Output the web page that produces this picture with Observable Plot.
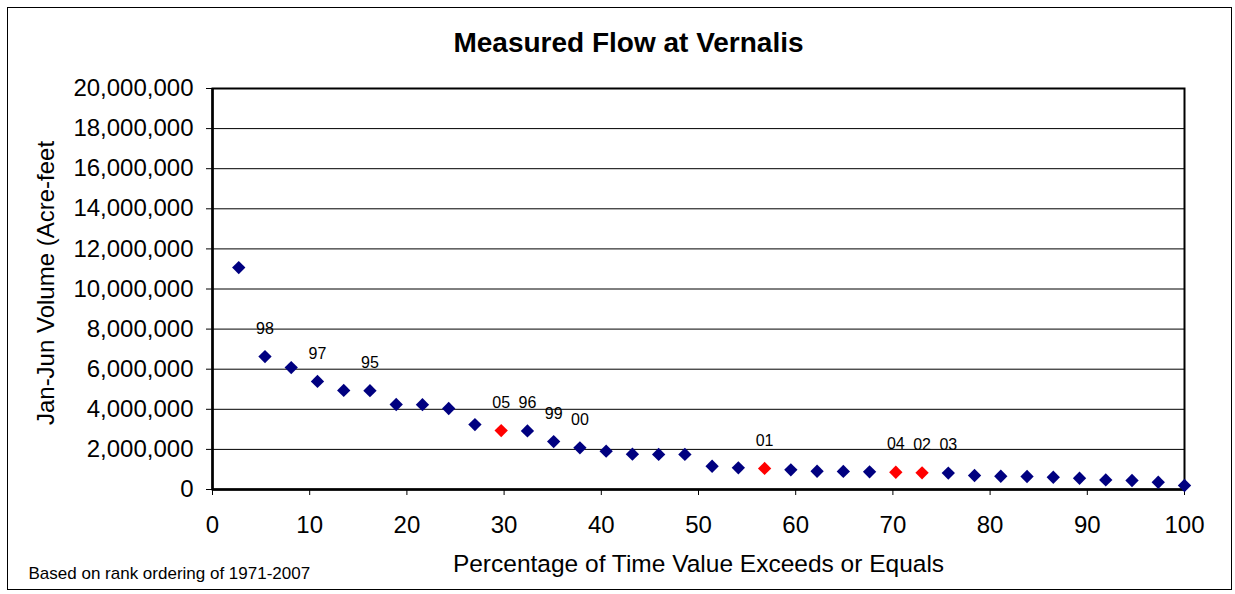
<!DOCTYPE html>
<html>
<head>
<meta charset="utf-8">
<script src="https://cdn.jsdelivr.net/npm/d3@7"></script>
<script src="https://cdn.jsdelivr.net/npm/@observablehq/plot@0.6"></script>
<style>
  html, body { margin: 0; padding: 0; background: #fff; }
  #wrap { position: relative; width: 1235px; height: 594px; overflow: hidden; font-family: "Liberation Sans", Arial, sans-serif; }
  #border { position: absolute; left: 7px; top: 7px; width: 1225px; height: 583px; border: 1px solid #000; box-sizing: border-box; }
  #chart { position: absolute; left: 0; top: 0; }
</style>
</head>
<body>
<div id="wrap"><div id="border"></div><div id="chart"></div></div>
<script>
// Percentage of time value exceeds or equals (rank position)
const exceedPct = [2.7, 5.4, 8.1, 10.8, 13.5, 16.2, 18.9, 21.6, 24.3, 27.0, 29.7, 32.4, 35.1, 37.8, 40.5, 43.2, 45.9, 48.6, 51.4, 54.1, 56.8, 59.5, 62.2, 64.9, 67.6, 70.3, 73.0, 75.7, 78.4, 81.1, 83.8, 86.5, 89.2, 91.9, 94.6, 97.3, 100];
// Jan-Jun volume (acre-feet)
const volume = [11070000, 6630000, 6080000, 5390000, 4940000, 4930000, 4240000, 4230000, 4040000, 3240000, 2940000, 2920000, 2390000, 2080000, 1910000, 1760000, 1750000, 1750000, 1160000, 1080000, 1050000, 980000, 910000, 900000, 880000, 860000, 830000, 820000, 700000, 660000, 650000, 610000, 560000, 480000, 450000, 360000, 200000];
// Year labels shown on the chart ("" = no label)
const yearLabel = ["", "98", "", "97", "", "95", "", "", "", "", "05", "96", "99", "00", "", "", "", "", "", "", "01", "", "", "", "", "04", "02", "03", "", "", "", "", "", "", "", "", ""];
// Highlighted (recent drought) years
const highlighted = ["05", "01", "04", "02"];

const xTicks = [0, 10, 20, 30, 40, 50, 60, 70, 80, 90, 100];
const yTicks = [0, 2000000, 4000000, 6000000, 8000000, 10000000, 12000000, 14000000, 16000000, 18000000, 20000000];

const titleText = "Measured Flow at Vernalis";
const xLabel = "Percentage of Time Value Exceeds or Equals";
const yLabel = "Jan-Jun Volume (Acre-feet";
const caption = "Based on rank ordering of 1971-2007";

const data = exceedPct.map((p, i) => ({pct: p, vol: volume[i], label: yearLabel[i], hi: highlighted.includes(yearLabel[i])}));

const font = '"Liberation Sans", Arial, sans-serif';

const plot = Plot.plot({
  width: 1235,
  height: 594,
  marginLeft: 212,
  marginRight: 51,
  marginTop: 88,
  marginBottom: 105,
  style: {fontFamily: font, fontSize: "24px", color: "#000", background: "transparent", overflow: "visible"},
  x: {domain: [0, 100], ticks: xTicks},
  y: {domain: [0, 20000000], ticks: yTicks},
  marks: [
    Plot.gridY(yTicks, {stroke: "#000", strokeOpacity: 1, strokeWidth: 1}),
    Plot.frame({stroke: "#000", strokeWidth: 2}),
    Plot.axisY({ticks: yTicks, tickFormat: d3.format(","), tickSize: 6, tickPadding: 13, label: null, fontSize: 24, stroke: "#000"}),
    Plot.axisX({ticks: xTicks, tickSize: 6, tickPadding: 20, label: null, fontSize: 24, stroke: "#000"}),
    Plot.ruleY([0], {stroke: "#000", strokeWidth: 2.5}),
    Plot.ruleX([0], {stroke: "#000", strokeWidth: 2.5}),
    Plot.dot(data.filter(d => !d.hi), {x: "pct", y: "vol", symbol: "diamond2", r: 6, fill: "#000080", stroke: "none"}),
    Plot.dot(data.filter(d => d.hi), {x: "pct", y: "vol", symbol: "diamond2", r: 6, fill: "#FF0000", stroke: "none"}),
    Plot.text(data.filter(d => d.label), {x: "pct", y: "vol", text: "label", dy: -28, fontSize: 16, fill: "#000"}),
    Plot.text([titleText], {frameAnchor: "top", textAnchor: "middle", lineAnchor: "middle", dx: -70, dy: -45, fontSize: 28, fontWeight: "bold", fill: "#000"}),
    Plot.text([xLabel], {frameAnchor: "bottom", textAnchor: "middle", lineAnchor: "middle", dy: 75, fontSize: 24.5, fill: "#000"}),
    Plot.text([yLabel], {frameAnchor: "left", textAnchor: "middle", lineAnchor: "middle", rotate: -90, dx: -166, dy: -6, fontSize: 24, fill: "#000"}),
    Plot.text([caption], {frameAnchor: "bottom-left", textAnchor: "start", lineAnchor: "middle", dx: -184, dy: 84, fontSize: 17, fill: "#000"})
  ]
});
document.getElementById("chart").appendChild(plot);
</script>
</body>
</html>
